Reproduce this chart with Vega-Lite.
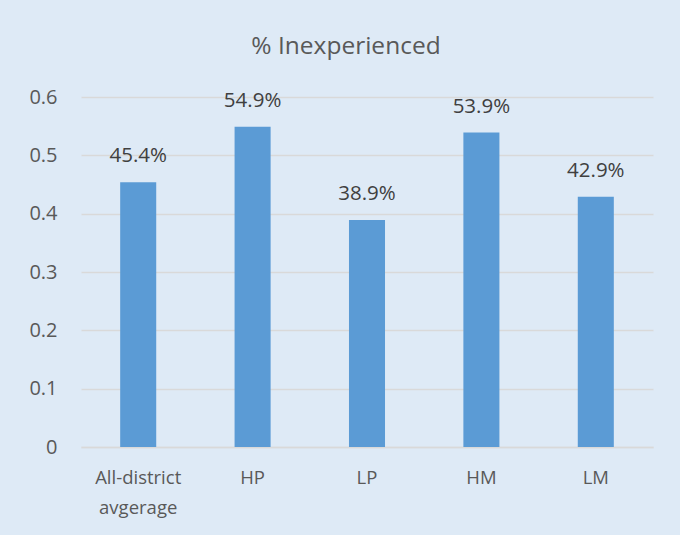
{
  "$schema": "https://vega.github.io/schema/vega-lite/v6.json",
  "width": 572,
  "height": 350,
  "autosize": {"type": "none"},
  "padding": {"left": 81, "top": 97, "right": 27, "bottom": 88},
  "background": "#DEEAF6",
  "title": {
    "text": "% Inexperienced",
    "anchor": "middle",
    "dx": -21,
    "offset": 28,
    "font": "Open Sans",
    "fontSize": 24.5,
    "fontWeight": "normal",
    "color": "#595959"
  },
  "data": {
    "values": [
      {"group": "All-district avgerage", "value": 0.454},
      {"group": "HP", "value": 0.549},
      {"group": "LP", "value": 0.389},
      {"group": "HM", "value": 0.539},
      {"group": "LM", "value": 0.429}
    ]
  },
  "encoding": {
    "x": {
      "field": "group",
      "type": "nominal",
      "sort": null,
      "scale": {"paddingInner": 0.685, "paddingOuter": 0.3425},
      "axis": {
        "title": null,
        "labelAngle": 0,
        "labelFont": "Open Sans",
        "labelFontSize": 18.5,
        "labelColor": "#595959",
        "labelPadding": 21,
        "labelLineHeight": 30,
        "ticks": false,
        "domainColor": "#D9D9D9",
        "domainWidth": 1.5,
        "labelExpr": "datum.label == 'All-district avgerage' ? ['All-district', 'avgerage'] : datum.label"
      }
    },
    "y": {
      "field": "value",
      "type": "quantitative",
      "scale": {"domain": [0, 0.6], "nice": false},
      "axis": {
        "title": null,
        "values": [0, 0.1, 0.2, 0.3, 0.4, 0.5, 0.6],
        "format": "~g",
        "labelFont": "Open Sans",
        "labelFontSize": 20,
        "labelColor": "#595959",
        "labelPadding": 24,
        "ticks": false,
        "domain": false,
        "gridColor": "#D9D9D9",
        "gridWidth": 1.5
      }
    }
  },
  "layer": [
    {"mark": {"type": "bar", "color": "#5B9BD5"}},
    {
      "mark": {
        "type": "text",
        "baseline": "alphabetic",
        "dy": -20,
        "font": "Open Sans",
        "fontSize": 20.5,
        "color": "#404040"
      },
      "encoding": {
        "text": {"field": "value", "type": "quantitative", "format": ".1%"}
      }
    }
  ],
  "config": {"view": {"stroke": null}}
}
